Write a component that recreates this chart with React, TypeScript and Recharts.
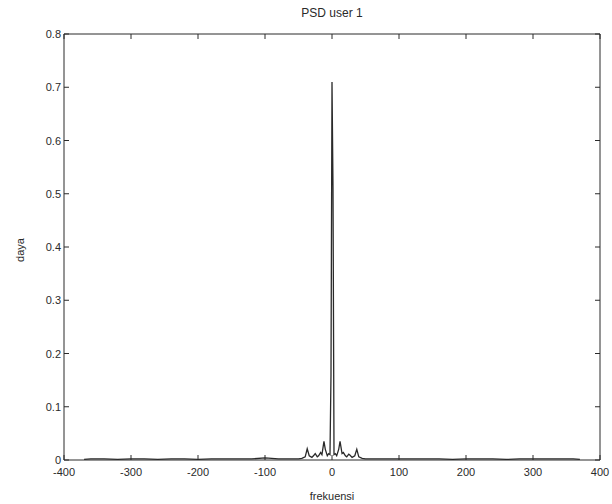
import React from 'react';
import { LineChart, Line, XAxis, YAxis } from 'recharts';

// frequency samples (x) and power (y)
const freqs = [
  -370, -360, -340, -320, -300, -280, -260, -240, -220, -200, -180, -160, -140, -120,
  -100, -80, -60, -50, -45, -40, -37, -34, -30, -27, -25, -22, -20, -17, -15, -12,
  -10, -7, -5, -3, -1.5, 0, 1.5, 3, 5, 7, 10, 12, 15, 17, 20, 22, 25, 27, 30, 34,
  37, 40, 45, 50, 60, 80, 100, 120, 140, 160, 180, 200, 220, 240, 260, 280, 300,
  320, 340, 360, 370,
];
const power = [
  0.001, 0.002, 0.002, 0.001, 0.002, 0.002, 0.001, 0.002, 0.002, 0.001, 0.002, 0.002, 0.002, 0.002,
  0.004, 0.002, 0.002, 0.002, 0.003, 0.006, 0.021, 0.008, 0.005, 0.009, 0.012, 0.006,
  0.008, 0.014, 0.01, 0.035, 0.02, 0.008, 0.012, 0.01, 0.16, 0.71, 0.51, 0.01, 0.012,
  0.008, 0.02, 0.035, 0.012, 0.014, 0.008, 0.006, 0.011, 0.009, 0.005, 0.008, 0.02,
  0.006, 0.003, 0.002, 0.002, 0.002, 0.002, 0.002, 0.002, 0.002, 0.001, 0.002, 0.002,
  0.002, 0.001, 0.002, 0.002, 0.002, 0.002, 0.002, 0.001,
];
const xTicks = [-400, -300, -200, -100, 0, 100, 200, 300, 400];
const yTicks = [0, 0.1, 0.2, 0.3, 0.4, 0.5, 0.6, 0.7, 0.8];

const data = freqs.map((f, i) => ({ f, p: power[i] }));

const FONT = '"Liberation Sans", Arial, sans-serif';
const INK = '#2a2a2a';

const BottomTick = ({ x, y, payload }: any) => (
  <g>
    <line x1={x} y1={y} x2={x} y2={y - 5} stroke={INK} />
    <text x={x} y={y + 16} textAnchor="middle" fontSize={11} fontFamily={FONT} fill={INK}>
      {payload.value}
    </text>
  </g>
);

const TopTick = ({ x, y }: any) => (
  <line x1={x} y1={y} x2={x} y2={y + 5} stroke={INK} />
);

const LeftTick = ({ x, y, payload }: any) => (
  <g>
    <line x1={x} y1={y} x2={x + 5} y2={y} stroke={INK} />
    <text x={x - 3} y={y + 4} textAnchor="end" fontSize={11} fontFamily={FONT} fill={INK}>
      {payload.value === 0 ? '0' : payload.value.toFixed(1)}
    </text>
  </g>
);

const RightTick = ({ x, y }: any) => (
  <line x1={x} y1={y} x2={x - 5} y2={y} stroke={INK} />
);

export default function App() {
  return (
    <div style={{ position: 'absolute', left: 0, top: 0, width: 612, height: 504, background: '#fff' }}>
      <LineChart
        width={612}
        height={504}
        data={data}
        margin={{ top: 33, right: 11, left: 63, bottom: 43 }}
      >
        <XAxis
          dataKey="f"
          type="number"
          domain={[-400, 400]}
          ticks={xTicks}
          height={1}
          tickSize={0}
          tickMargin={0}
          tickLine={false}
          axisLine={{ stroke: INK }}
          tick={<BottomTick />}
          interval={0}
        />
        <XAxis
          xAxisId="top"
          orientation="top"
          dataKey="f"
          type="number"
          domain={[-400, 400]}
          ticks={xTicks}
          height={1}
          tickSize={0}
          tickMargin={0}
          tickLine={false}
          axisLine={{ stroke: INK }}
          tick={<TopTick />}
          interval={0}
        />
        <YAxis
          type="number"
          domain={[0, 0.8]}
          ticks={yTicks}
          width={1}
          tickSize={0}
          tickMargin={0}
          tickLine={false}
          axisLine={{ stroke: INK }}
          tick={<LeftTick />}
          interval={0}
        />
        <YAxis
          yAxisId="right"
          orientation="right"
          type="number"
          domain={[0, 0.8]}
          ticks={yTicks}
          width={1}
          tickSize={0}
          tickMargin={0}
          tickLine={false}
          axisLine={{ stroke: INK }}
          tick={<RightTick />}
          interval={0}
        />
        <Line
          dataKey="p"
          type="linear"
          stroke={INK}
          strokeWidth={1.3}
          dot={false}
          isAnimationActive={false}
        />
        <Line
          dataKey="p"
          xAxisId="top"
          yAxisId="right"
          stroke="none"
          dot={false}
          legendType="none"
          isAnimationActive={false}
        />
        <text x={332} y={17} textAnchor="middle" fontSize={12} fontFamily={FONT} fill={INK}>
          PSD user 1
        </text>
        <text x={332} y={500} textAnchor="middle" fontSize={11} fontFamily={FONT} fill={INK}>
          frekuensi
        </text>
        <text
          x={24}
          y={250}
          textAnchor="middle"
          fontSize={11}
          fontFamily={FONT}
          fill={INK}
          transform="rotate(-90 24 250)"
        >
          daya
        </text>
      </LineChart>
    </div>
  );
}
